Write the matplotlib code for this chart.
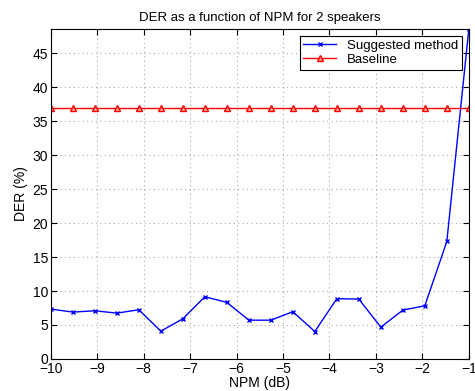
import numpy as np
from matplotlib import pyplot as plt

plt.rcParams['font.family'] = ['Liberation Sans', 'DejaVu Sans']

npm = np.linspace(-10, -1, 20)
der_suggested = [7.34, 6.9, 7.09, 6.75, 7.24, 4.09, 5.91, 9.16, 8.33, 5.71,
                 5.71, 6.95, 4.04, 8.87, 8.82, 4.68, 7.19, 7.83, 17.3, 48.6]
der_baseline = [37.0] * 20
xticks = np.arange(-10, 0, 1)
yticks = np.arange(0, 50, 5)

fig = plt.figure(figsize=(4.75, 3.91), dpi=100)
ax = fig.add_axes([0.107, 0.082, 0.880, 0.844])

ax.plot(npm, der_suggested, color='blue', linewidth=1, marker='x', markersize=3.5,
        markeredgewidth=1, label='Suggested method')
ax.plot(npm, der_baseline, color='red', linewidth=1, marker='^', markersize=5,
        markerfacecolor='#ff9a9a', markeredgecolor='red', label='Baseline')

ax.set_xlim(-10, -1)
ax.set_ylim(0, max(der_suggested))
ax.set_xticks(xticks)
ax.set_yticks(yticks)
ax.set_xticklabels(['\u2212%d' % abs(t) for t in xticks])
ax.tick_params(direction='in', top=True, right=True, labelsize=10, length=4, pad=2)
ax.grid(True, linestyle=(0, (1, 3)), color='#aaaaaa', linewidth=0.8)
for s in ax.spines.values():
    s.set_linewidth(0.8)

ax.set_title('DER as a function of NPM for 2 speakers', fontsize=9.5, pad=6)
ax.set_xlabel('NPM (dB)', fontsize=10, labelpad=0)
ax.set_ylabel('DER (%)', fontsize=10, labelpad=3)

leg = ax.legend(loc='upper right', fontsize=9.5, fancybox=False, framealpha=1,
                edgecolor='black', borderpad=0.3, handlelength=2.5,
                labelspacing=0.15, borderaxespad=0.5)
leg.get_frame().set_linewidth(0.8)

fig.savefig('out.png', dpi=100)
